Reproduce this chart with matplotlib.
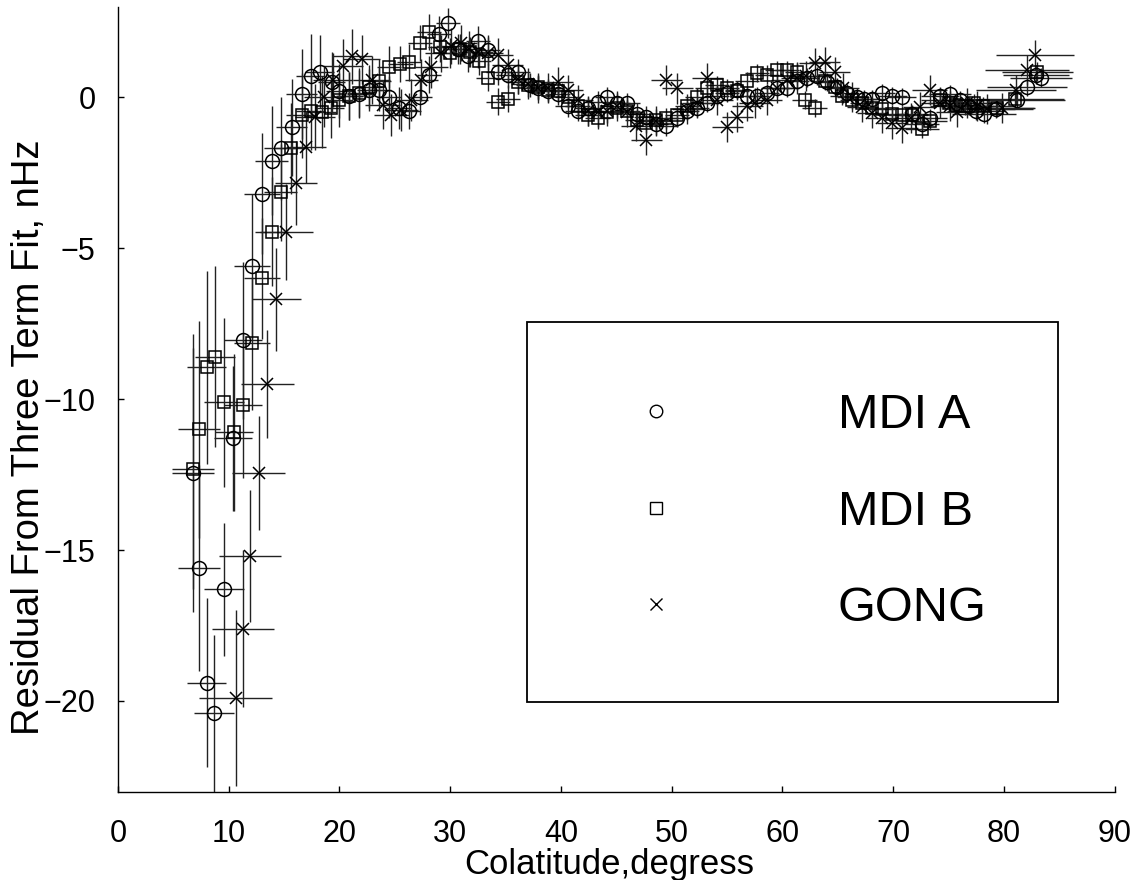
import matplotlib
matplotlib.use("Agg")
import matplotlib.pyplot as plt
from matplotlib.lines import Line2D

plt.rcParams['font.family'] = ['Liberation Sans', 'DejaVu Sans']

# MDI A (circles)
a_x = [6.8, 7.3, 8.0, 8.7, 9.6, 10.4, 11.3, 12.1, 13.0, 13.9,
       14.7, 15.7, 16.6, 17.4, 18.2, 19.3, 20.0, 20.9, 21.8, 22.7,
       23.6, 24.5, 25.4, 26.3, 27.3, 28.1, 29.0, 29.8, 30.7, 31.6,
       32.5, 33.4, 34.3, 35.2, 36.1, 37.2, 37.9, 38.8, 39.7, 40.6,
       41.5, 42.4, 43.3, 44.2, 45.1, 46.0, 46.9, 47.7, 48.6, 49.5,
       50.5, 51.4, 52.3, 53.2, 54.1, 55.0, 55.9, 56.8, 57.7, 58.6,
       59.5, 60.4, 61.3, 62.2, 63.1, 64.0, 64.9, 65.8, 66.7, 67.4,
       68.1, 69.0, 69.9, 70.8, 71.7, 72.6, 73.3, 74.2, 75.1, 76.0,
       76.8, 77.5, 78.2, 79.3, 81.2, 82.1, 82.9, 83.3]
a_y = [-12.45, -15.6, -19.4, -20.4, -16.3, -11.3, -8.05, -5.6, -3.2, -2.1,
       -1.7, -1.0, 0.1, 0.7, 0.85, 0.5, 0.2, 0.05, 0.1, 0.23,
       0.25, 0.0, -0.35, -0.45, 0.0, 0.75, 2.1, 2.45, 1.6, 1.35,
       1.85, 1.55, 0.85, 0.75, 0.85, 0.4, 0.3, 0.2, 0.1, -0.3,
       -0.45, -0.35, -0.15, 0.0, -0.2, -0.2, -0.55, -0.65, -0.9, -0.95,
       -0.7, -0.45, -0.35, -0.2, 0.05, 0.15, 0.25, 0.05, 0.05, 0.15,
       0.3, 0.3, 0.55, 0.65, 0.7, 0.5, 0.35, 0.15, 0.0, -0.05,
       -0.05, 0.15, 0.05, 0.0, -0.55, -0.9, -0.7, 0.05, 0.1, -0.1,
       -0.3, -0.45, -0.55, -0.4, -0.1, 0.35, 0.75, 0.65]
a_yerr = [4.6, 3.4, 2.8, 2.6, 2.2, 2.4, 2.6, 2.4, 2.0, 1.8,
          1.7, 1.6, 1.5, 1.4, 1.2, 1.0, 0.9, 0.8, 0.8, 0.7,
          0.7, 0.7, 0.7, 0.6, 0.6, 0.6, 0.6, 0.5, 0.5, 0.5,
          0.5, 0.5, 0.45, 0.45, 0.4, 0.4, 0.4, 0.35, 0.35, 0.35,
          0.35, 0.35, 0.35, 0.35, 0.35, 0.35, 0.35, 0.35, 0.35, 0.35,
          0.3, 0.3, 0.3, 0.3, 0.3, 0.3, 0.3, 0.3, 0.3, 0.3,
          0.3, 0.3, 0.3, 0.3, 0.3, 0.3, 0.3, 0.3, 0.3, 0.3,
          0.3, 0.3, 0.3, 0.3, 0.3, 0.3, 0.3, 0.3, 0.3, 0.3,
          0.3, 0.3, 0.3, 0.3, 0.3, 0.3, 0.3, 0.3]
a_xerr = [1.9, 1.9, 1.8, 1.8, 1.8, 1.7, 1.7, 1.6, 1.6, 1.5,
          1.5, 1.4, 1.4, 1.3, 1.3, 1.2, 1.2, 1.2, 1.1, 1.1,
          1.1, 1.1, 1.1, 1.1, 1.1, 1.1, 1.1, 1.1, 1.1, 1.1,
          1.1, 1.1, 1.1, 1.1, 1.1, 1.1, 1.1, 1.1, 1.1, 1.1,
          1.1, 1.1, 1.1, 1.1, 1.1, 1.1, 1.1, 1.1, 1.1, 1.1,
          1.1, 1.1, 1.1, 1.1, 1.1, 1.1, 1.1, 1.1, 1.1, 1.1,
          1.1, 1.1, 1.1, 1.1, 1.1, 1.1, 1.1, 1.1, 1.1, 1.1,
          1.2, 1.2, 1.3, 1.3, 1.4, 1.5, 1.6, 1.7, 1.9, 2.1,
          2.3, 2.6, 2.9, 3.3, 4.3, 3.6, 3.0, 2.8]

# MDI B (squares)
b_x = [6.8, 7.3, 8.0, 8.75, 9.6, 10.5, 11.3, 12.1, 13.0, 13.9,
       14.7, 15.6, 16.6, 17.4, 18.4, 19.2, 20.0, 20.9, 21.8, 22.7,
       23.6, 24.5, 25.5, 26.3, 27.3, 28.1, 29.1, 30.0, 30.9, 31.8,
       32.6, 33.4, 34.3, 35.2, 36.1, 37.0, 37.9, 38.8, 39.7, 40.6,
       41.5, 42.4, 43.3, 44.2, 45.1, 46.0, 46.9, 47.7, 48.6, 49.5,
       50.5, 51.4, 52.3, 53.2, 54.1, 55.0, 55.9, 56.8, 57.7, 58.6,
       59.5, 60.4, 61.3, 62.0, 62.9, 63.8, 64.7, 65.4, 66.3, 67.2,
       68.1, 69.0, 69.9, 70.8, 71.7, 72.6, 73.3, 74.2, 75.0, 75.7,
       76.5, 77.3, 78.1, 79.4, 81.0, 83.0]
b_y = [-12.3, -11.0, -8.95, -8.6, -10.1, -11.1, -10.2, -8.15, -6.0, -4.45,
       -3.15, -1.7, -0.6, -0.45, -0.5, -0.35, -0.1, 0.05, 0.15, 0.35,
       0.55, 1.0, 1.1, 1.15, 1.8, 2.15, 1.65, 1.45, 1.6, 1.5,
       1.2, 0.65, -0.15, -0.05, 0.5, 0.4, 0.35, 0.25, 0.2, 0.0,
       -0.3, -0.6, -0.7, -0.5, -0.35, -0.45, -0.75, -0.85, -0.75, -0.7,
       -0.6, -0.3, 0.0, 0.3, 0.4, 0.3, 0.2, 0.55, 0.8, 0.75,
       0.9, 0.9, 0.85, -0.1, -0.35, 0.55, 0.35, 0.05, -0.1, -0.2,
       -0.35, -0.4, -0.55, -0.6, -0.6, -1.05, -0.8, -0.1, -0.2, -0.25,
       -0.3, -0.2, -0.3, -0.35, -0.05, 0.85]
b_yerr = [4.0, 3.6, 3.2, 3.0, 2.8, 2.6, 2.4, 2.2, 2.0, 1.8,
          1.6, 1.5, 1.4, 1.3, 1.2, 1.0, 0.9, 0.8, 0.8, 0.7,
          0.7, 0.7, 0.6, 0.6, 0.6, 0.6, 0.5, 0.5, 0.5, 0.5,
          0.45, 0.45, 0.45, 0.45, 0.4, 0.4, 0.4, 0.35, 0.35, 0.35,
          0.35, 0.35, 0.35, 0.35, 0.35, 0.35, 0.35, 0.35, 0.35, 0.35,
          0.3, 0.3, 0.3, 0.3, 0.3, 0.3, 0.3, 0.3, 0.3, 0.3,
          0.3, 0.3, 0.3, 0.3, 0.3, 0.3, 0.3, 0.3, 0.3, 0.3,
          0.3, 0.3, 0.3, 0.3, 0.3, 0.3, 0.3, 0.3, 0.3, 0.3,
          0.3, 0.3, 0.3, 0.3, 0.3, 0.3]
b_xerr = [1.9, 1.9, 1.8, 1.8, 1.8, 1.7, 1.7, 1.6, 1.6, 1.5,
          1.5, 1.4, 1.4, 1.3, 1.3, 1.2, 1.2, 1.2, 1.1, 1.1,
          1.1, 1.1, 1.1, 1.1, 1.1, 1.1, 1.1, 1.1, 1.1, 1.1,
          1.1, 1.1, 1.1, 1.1, 1.1, 1.1, 1.1, 1.1, 1.1, 1.1,
          1.1, 1.1, 1.1, 1.1, 1.1, 1.1, 1.1, 1.1, 1.1, 1.1,
          1.1, 1.1, 1.1, 1.1, 1.1, 1.1, 1.1, 1.1, 1.1, 1.1,
          1.1, 1.1, 1.1, 1.1, 1.1, 1.1, 1.1, 1.1, 1.1, 1.1,
          1.2, 1.2, 1.3, 1.3, 1.4, 1.5, 1.6, 1.7, 1.9, 2.1,
          2.3, 2.6, 2.9, 3.3, 4.4, 3.2]

# GONG (x)
g_x = [10.65, 11.3, 11.9, 12.7, 13.5, 14.3, 15.2, 16.1, 17.0, 17.8,
       18.6, 19.4, 20.3, 21.1, 22.0, 22.9, 23.9, 24.7, 25.6, 26.5,
       27.4, 28.3, 29.2, 30.1, 31.0, 31.7, 32.5, 33.4, 34.3, 35.2,
       36.1, 37.0, 37.9, 38.8, 39.7, 40.6, 41.5, 42.4, 43.3, 44.2,
       45.1, 46.0, 46.8, 47.7, 48.6, 49.5, 50.5, 51.4, 52.3, 53.2,
       54.1, 55.0, 55.9, 56.8, 57.5, 58.6, 59.5, 60.4, 61.3, 62.1,
       62.9, 63.8, 64.7, 65.5, 66.3, 67.2, 68.1, 69.0, 69.9, 70.8,
       71.6, 72.4, 73.3, 74.2, 75.1, 75.8, 76.7, 77.6, 78.5, 79.8,
       81.1, 82.1, 82.8]
g_y = [-19.9, -17.6, -15.2, -12.45, -9.5, -6.7, -4.47, -2.84, -1.65, -0.66,
       0.0, 0.56, 1.03, 1.35, 1.25, 0.56, -0.27, -0.6, -0.43, -0.1,
       0.56, 1.0, 1.45, 1.7, 1.8, 1.6, 1.5, 1.45, 1.4, 1.05,
       0.6, 0.45, 0.3, 0.3, 0.5, 0.25, -0.1, -0.45, -0.5, -0.45,
       -0.3, -0.5, -0.95, -1.42, -0.8, 0.56, 0.29, -0.4, -0.2, 0.62,
       -0.1, -0.98, -0.65, -0.3, -0.2, -0.1, 0.3, 0.56, 0.62, 0.7,
       1.12, 1.17, 0.84, 0.3, 0.0, -0.33, -0.53, -0.7, -0.87, -1.03,
       -0.7, -0.33, 0.23, -0.2, -0.3, -0.5, -0.2, -0.3, -0.4, -0.37,
       0.23, 0.9, 1.4]
g_yerr = [2.9, 2.6, 2.2, 1.9, 1.8, 1.7, 1.6, 1.4, 1.2, 1.1,
          1.0, 0.9, 0.9, 0.9, 0.8, 0.8, 0.8, 0.7, 0.7, 0.7,
          0.7, 0.7, 0.6, 0.6, 0.6, 0.6, 0.55, 0.55, 0.55, 0.55,
          0.5, 0.5, 0.5, 0.5, 0.5, 0.5, 0.5, 0.5, 0.5, 0.5,
          0.5, 0.5, 0.5, 0.5, 0.5, 0.5, 0.5, 0.5, 0.5, 0.5,
          0.5, 0.5, 0.5, 0.5, 0.5, 0.5, 0.5, 0.5, 0.5, 0.5,
          0.5, 0.5, 0.5, 0.5, 0.5, 0.5, 0.5, 0.5, 0.5, 0.5,
          0.5, 0.5, 0.5, 0.5, 0.5, 0.5, 0.5, 0.5, 0.5, 0.5,
          0.5, 0.5, 0.5]
g_xerr = [3.3, 2.8, 2.8, 2.4, 2.4, 2.2, 2.4, 1.9, 1.8, 1.8,
          1.8, 1.8, 1.8, 1.8, 1.7, 1.7, 1.6, 1.6, 1.5, 1.5,
          1.5, 1.5, 1.5, 1.4, 1.4, 1.4, 1.4, 1.4, 1.4, 1.4,
          1.4, 1.4, 1.4, 1.4, 1.4, 1.4, 1.4, 1.4, 1.4, 1.4,
          1.4, 1.4, 1.4, 1.4, 1.4, 1.4, 1.4, 1.4, 1.4, 1.4,
          1.4, 1.4, 1.4, 1.4, 1.4, 1.4, 1.4, 1.4, 1.4, 1.4,
          1.4, 1.4, 1.4, 1.4, 1.4, 1.4, 1.4, 1.4, 1.4, 1.4,
          1.5, 1.5, 1.6, 1.7, 1.8, 1.9, 2.0, 2.2, 2.5, 3.0,
          3.6, 3.8, 3.5]

fig = plt.figure(figsize=(11.34, 8.8), dpi=100)
ax = fig.add_axes([0.104, 0.1005, 0.879, 0.892])

common = dict(ls='none', ecolor='#222222', elinewidth=1.0, capsize=0,
              mfc='none', mec='k', mew=1.1, zorder=3)
ax.errorbar(a_x, a_y, xerr=a_xerr, yerr=a_yerr, fmt='o', ms=10, **common)
ax.errorbar(b_x, b_y, xerr=b_xerr, yerr=b_yerr, fmt='s', ms=9, **common)
ax.errorbar(g_x, g_y, xerr=g_xerr, yerr=g_yerr, fmt='x', ms=8, **common)

ax.set_xlim(0, 90)
ax.set_ylim(-23, 3)
ax.set_xticks(range(0, 91, 10))
ax.set_yticks([-20, -15, -10, -5, 0])
ax.spines['top'].set_visible(False)
ax.spines['right'].set_visible(False)
ax.spines['left'].set_linewidth(1.0)
ax.spines['bottom'].set_linewidth(1.0)
ax.tick_params(direction='in', length=4.5, width=1.0, labelsize=22)
ax.tick_params(axis='x', pad=20)
ax.tick_params(axis='y', pad=16)

ax.set_xlabel("Colatitude,degress", fontsize=25)
ax.set_ylabel("Residual From Three Term Fit, nHz", fontsize=27.5)
ax.xaxis.set_label_coords(0.4925, -0.0715)
ax.yaxis.set_label_coords(-0.071, 0.452)

handles = [
    Line2D([], [], ls='none', marker='o', ms=9, mfc='none', mec='k', mew=1.0),
    Line2D([], [], ls='none', marker='s', ms=8, mfc='none', mec='k', mew=1.0),
    Line2D([], [], ls='none', marker='x', ms=8, mec='k', mew=1.0),
]
leg = ax.legend(handles, ["MDI A", "MDI B", "GONG"], loc='upper left',
                bbox_to_anchor=(0.410, 0.598), borderaxespad=0,
                fontsize=35, frameon=True, fancybox=False, shadow=False,
                borderpad=1.46, labelspacing=1.06, handlelength=2.39,
                handletextpad=2.55)
leg.get_frame().set_edgecolor('k')
leg.get_frame().set_linewidth(1.3)
leg.get_frame().set_alpha(1)

fig.savefig("out.png", dpi=100)
